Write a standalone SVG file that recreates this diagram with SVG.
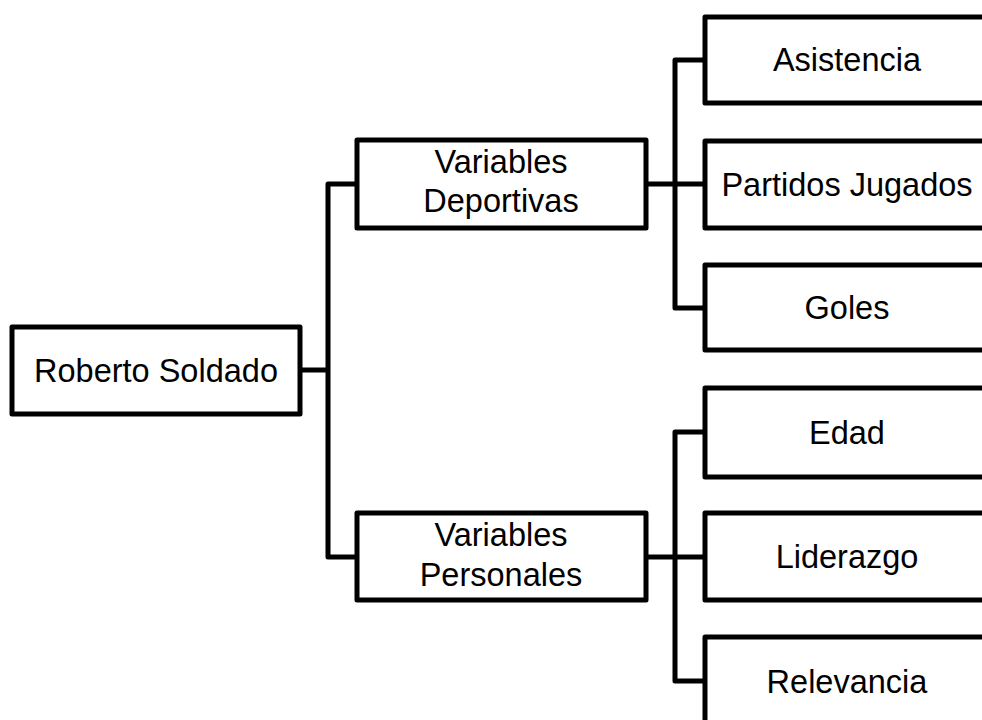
<svg xmlns="http://www.w3.org/2000/svg" width="982" height="720" viewBox="0 0 982 720">
<style>
.box{fill:#fff;stroke:#000;stroke-width:5;stroke-linejoin:round}
.con{fill:none;stroke:#000;stroke-width:5;stroke-linejoin:round;stroke-linecap:butt}
text{font-family:"Liberation Sans",Arial,sans-serif;font-size:32.5px;fill:#000;text-anchor:middle}
</style>
<rect width="982" height="720" fill="#fff"/>
<g id="connectors">
<path class="con" d="M300 370H328M356 184H328V557H356"/>
<path class="con" d="M646 184H705M705 60H675V308H705"/>
<path class="con" d="M646 557H705M705 432H675V681H705"/>
</g>
<g id="n-roberto"><rect class="box" x="12" y="327" width="288" height="87"/><text x="156" y="382">Roberto Soldado</text></g>
<g id="n-deportivas"><rect class="box" x="357" y="140" width="289" height="88"/><text x="501" y="173">Variables</text><text x="501" y="212">Deportivas</text></g>
<g id="n-personales"><rect class="box" x="357" y="513" width="289" height="87"/><text x="501" y="546">Variables</text><text x="501" y="586">Personales</text></g>
<g id="n-asistencia"><rect class="box" x="705" y="17" width="290" height="86"/><text x="847" y="71">Asistencia</text></g>
<g id="n-partidos"><rect class="box" x="705" y="141" width="290" height="87"/><text x="847" y="196">Partidos Jugados</text></g>
<g id="n-goles"><rect class="box" x="705" y="265" width="290" height="85"/><text x="847" y="319">Goles</text></g>
<g id="n-edad"><rect class="box" x="705" y="388" width="290" height="89"/><text x="847" y="444">Edad</text></g>
<g id="n-liderazgo"><rect class="box" x="705" y="513" width="290" height="87"/><text x="847" y="568">Liderazgo</text></g>
<g id="n-relevancia"><rect class="box" x="705" y="637" width="290" height="90"/><text x="847" y="693">Relevancia</text></g>
</svg>
